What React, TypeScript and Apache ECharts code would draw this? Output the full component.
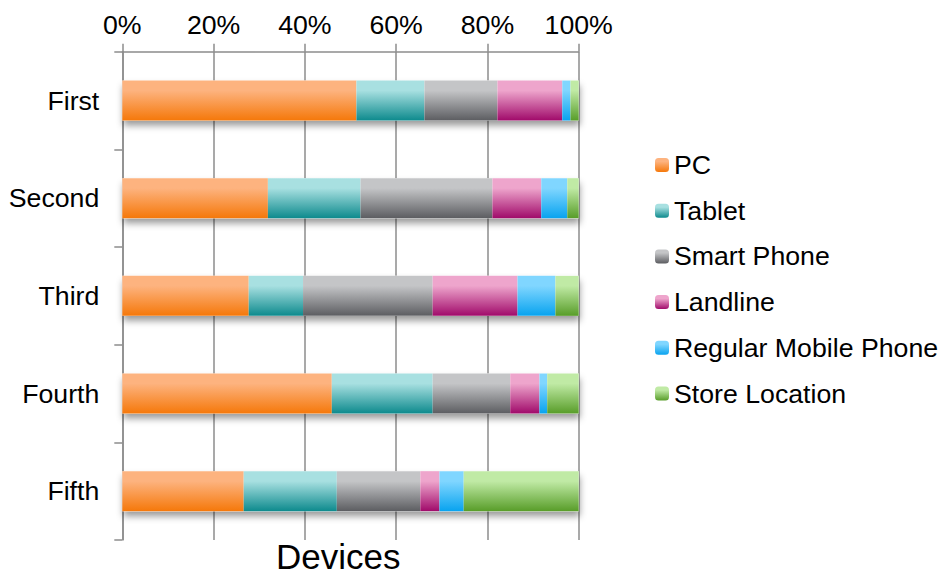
import React, { useEffect, useRef } from "react";
import * as echarts from "echarts";

const categories = ["First", "Second", "Third", "Fourth", "Fifth"];
const pc = [51.3, 31.9, 27.7, 45.9, 26.6];
const tablet = [14.9, 20.3, 11.9, 22.1, 20.4];
const smartPhone = [16.0, 28.9, 28.4, 17.0, 18.3];
const landline = [14.2, 10.7, 18.6, 6.4, 4.2];
const regularMobile = [1.8, 5.7, 8.3, 1.7, 5.3];
const storeLocation = [1.8, 2.5, 5.1, 6.9, 25.2];
const xTicks = [0, 20, 40, 60, 80, 100];

const seriesDefs = [
  { name: "PC", data: pc, top: "#FDB37F", bottom: "#F5780A" },
  { name: "Tablet", data: tablet, top: "#A8E0E1", bottom: "#0D8A8D" },
  { name: "Smart Phone", data: smartPhone, top: "#C4C5C7", bottom: "#5C5D61" },
  { name: "Landline", data: landline, top: "#EEA5CC", bottom: "#A00A6A" },
  { name: "Regular Mobile Phone", data: regularMobile, top: "#80D6FF", bottom: "#08A3EF" },
  { name: "Store Location", data: storeLocation, top: "#C0EAA5", bottom: "#589D29" },
];

const FONT = "'Liberation Sans', Arial, sans-serif";
const FS = 26.7;

export default function App() {
  const ref = useRef<HTMLDivElement>(null);
  useEffect(() => {
    if (!ref.current) return;
    const chart = echarts.init(ref.current, null, { renderer: "svg" });
    const totals = categories.map((_, i) =>
      seriesDefs.reduce((s, d) => s + d.data[i], 0)
    );
    const pct = (arr: number[]) => arr.map((v, i) => (v / totals[i]) * 100);
    const lineColor = "#8c8c8c";
    const option: any = {
      animation: false,
      backgroundColor: "#ffffff",
      textStyle: { fontFamily: FONT, color: "#000" },
      grid: { left: 122.3, right: 362.3, top: 51.7, bottom: 35 },
      xAxis: {
        type: "value",
        position: "top",
        min: xTicks[0],
        max: xTicks[xTicks.length - 1],
        interval: xTicks[1] - xTicks[0],
        axisLine: { show: true, lineStyle: { color: lineColor, width: 1.5 } },
        axisTick: { show: true, length: 8, lineStyle: { color: lineColor, width: 1.5 } },
        splitLine: { show: true, lineStyle: { color: lineColor, width: 1.5 } },
        axisLabel: {
          formatter: "{value}%",
          fontSize: FS,
          fontFamily: FONT,
          color: "#000",
          margin: 13,
        },
      },
      yAxis: {
        type: "category",
        inverse: true,
        data: categories,
        axisLine: { show: true, lineStyle: { color: lineColor, width: 1.5 } },
        axisTick: { show: true, length: 8, lineStyle: { color: lineColor, width: 1.5 } },
        axisLabel: { fontSize: FS, fontFamily: FONT, color: "#000", margin: 23 },
      },
      legend: {
        orient: "vertical",
        left: 655,
        top: 151.5,
        padding: 0,
        itemWidth: 14,
        itemHeight: 14,
        itemGap: 18.7,
        data: seriesDefs.map((d) => d.name),
        textStyle: { fontSize: FS, fontFamily: FONT, color: "#000" },
      },
      graphic: [
        {
          type: "text",
          left: 276,
          top: 539,
          style: {
            text: "Devices",
            font: `35px ${FONT}`,
            lineHeight: 30,
            fill: "#000",
          },
        },
      ],
      series: [
        {
          type: "bar",
          name: "shadow",
          silent: true,
          barWidth: 40,
          barGap: "-100%",
          data: totals.map(() => 100),
          itemStyle: {
            color: "#ffffff",
            shadowColor: "rgba(0,0,0,0.4)",
            shadowBlur: 7,
            shadowOffsetY: 5,
            shadowOffsetX: 1,
          },
        },
        ...seriesDefs.map((d) => ({
          type: "bar",
          name: d.name,
          stack: "total",
          barWidth: 40,
          barGap: "-100%",
          data: pct(d.data),
          itemStyle: {
            color: new echarts.graphic.LinearGradient(0, 0, 0, 1, [
              { offset: 0, color: d.top },
              { offset: 0.25, color: d.top },
              { offset: 1, color: d.bottom },
            ]),
          },
        })),
      ],
    };
    chart.setOption(option);
    return () => chart.dispose();
  }, []);
  return (
    <div
      ref={ref}
      style={{ position: "fixed", left: 0, top: 0, width: 941, height: 575 }}
    />
  );
}
